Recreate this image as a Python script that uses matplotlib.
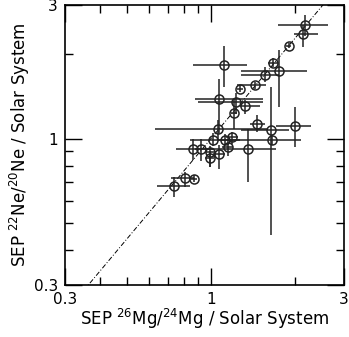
import numpy as np
import matplotlib
matplotlib.use('Agg')
import matplotlib.pyplot as plt
from matplotlib.ticker import FixedLocator, NullFormatter

plt.rcParams['mathtext.default'] = 'regular'
plt.rcParams['font.size'] = 11

# 26Mg/24Mg (x) and 22Ne/20Ne (y), relative to solar system, with error-bar ends
mg     = [2.18, 2.14, 1.90, 1.67, 1.75, 1.56, 1.44, 1.27, 1.11, 1.07, 1.23, 1.32, 1.21, 1.46, 1.64, 2.00,
          1.06, 1.02, 1.12, 1.19, 1.155, 1.07, 0.995, 0.99, 0.92, 0.86, 1.36, 1.65, 0.87, 0.81, 0.74]
mg_lo  = [1.74, 1.99, 1.86, 1.60, 1.28, 1.28, 1.24, 1.24, 0.86, 0.877, 0.90, 1.27, 1.18, 1.38, 1.28, 1.71,
          0.63, 0.84, 1.06, 1.13, 1.10, 1.02, 0.95, 0.95, 0.88, 0.75, 0.96, 1.14, 0.85, 0.72, 0.64]
mg_hi  = [2.62, 2.42, 1.94, 1.74, 2.20, 1.76, 1.58, 1.30, 1.35, 1.54, 1.54, 1.50, 1.24, 1.56, 1.90, 2.29,
          1.60, 1.27, 1.20, 1.25, 1.20, 1.12, 1.04, 1.03, 0.96, 1.02, 1.71, 2.11, 0.89, 0.87, 0.84]
ne     = [2.54, 2.37, 2.15, 1.87, 1.75, 1.69, 1.55, 1.51, 1.84, 1.39, 1.35, 1.31, 1.24, 1.13, 1.07, 1.11,
          1.08, 0.99, 0.99, 1.01, 0.93, 0.88, 0.895, 0.85, 0.92, 0.92, 0.92, 0.99, 0.72, 0.725, 0.68]
ne_lo  = [2.32, 2.13, 2.10, 1.80, 1.30, 1.60, 1.50, 1.47, 1.53, 1.05, 1.22, 1.22, 1.08, 1.055, 0.454, 0.93,
          0.99, 0.94, 0.95, 0.96, 0.87, 0.78, 0.79, 0.79, 0.83, 0.84, 0.70, 0.95, 0.70, 0.67, 0.62]
ne_hi  = [2.77, 2.55, 2.20, 1.94, 2.07, 1.80, 1.60, 1.55, 2.15, 1.64, 1.45, 1.37, 1.38, 1.21, 1.53, 1.30,
          1.17, 1.05, 1.04, 1.06, 0.98, 0.95, 0.94, 0.90, 1.00, 1.00, 1.08, 1.03, 0.74, 0.76, 0.73]

# fitted trend line: y = x**slope
slope = 1.19

mg = np.array(mg); ne = np.array(ne)
xerr = [mg - np.array(mg_lo), np.array(mg_hi) - mg]
yerr = [ne - np.array(ne_lo), np.array(ne_hi) - ne]

fig = plt.figure(figsize=(3.49, 3.37), dpi=100)
ax = fig.add_axes([0.186, 0.154, 0.80, 0.831])

xl = np.array([0.3, 3.0])
ax.plot(xl, xl**slope, color='k', lw=0.7, linestyle=(0, (5, 2, 1, 2)))
ax.errorbar(mg, ne, xerr=xerr, yerr=yerr, fmt='o', mfc='none', mec='#222222', mew=1.1,
            ms=6.5, ecolor='#222222', elinewidth=1.1, capsize=0)

ax.set_xscale('log')
ax.set_yscale('log')
ax.set_xlim(0.3, 3)
ax.set_ylim(0.3, 3)

for axis in (ax.xaxis, ax.yaxis):
    axis.set_major_locator(FixedLocator([0.3, 1, 3]))
    axis.set_minor_locator(FixedLocator([0.4, 0.5, 0.6, 0.7, 0.8, 0.9, 2]))
    axis.set_minor_formatter(NullFormatter())
ax.set_xticklabels(['0.3', '1', '3'])
ax.set_yticklabels(['0.3', '1', '3'])
ax.tick_params(which='both', direction='in', top=True, right=True, width=1.0)
ax.tick_params(which='major', length=12, pad=5)
ax.tick_params(which='minor', length=6)
for s in ax.spines.values():
    s.set_linewidth(1.2)

ax.set_xlabel('SEP $^{26}$Mg/$^{24}$Mg / Solar System', fontsize=12, labelpad=0)
ax.set_ylabel('SEP $^{22}$Ne/$^{20}$Ne / Solar System', fontsize=12, labelpad=1)

fig.savefig('out.png', dpi=100)
